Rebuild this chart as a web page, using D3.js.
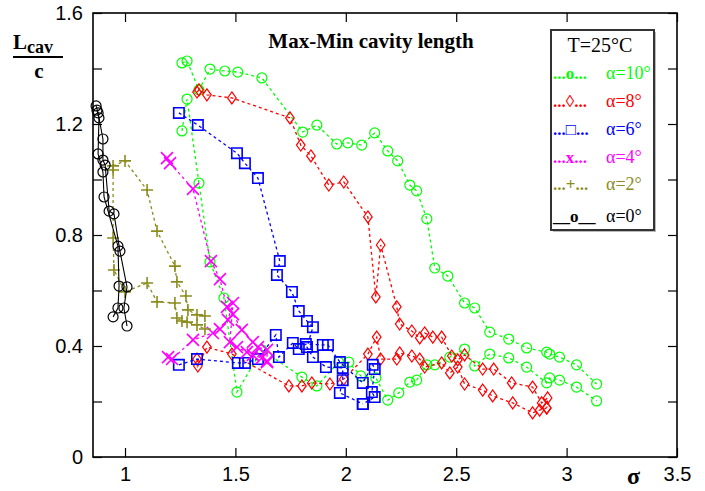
<!DOCTYPE html>
<html><head><meta charset="utf-8">
<script src="https://cdn.jsdelivr.net/npm/d3@7"></script>
<style>
html,body{margin:0;padding:0;background:#fff;}
svg{display:block;}
</style></head>
<body>
<svg id="chart" width="705" height="491"></svg>
<script>
// Axis ticks
const xTickVals = [1, 1.5, 2, 2.5, 3, 3.5];
const xTickLabels = ["1", "1.5", "2", "2.5", "3", "3.5"];
const yTickVals = [0, 0.2, 0.4, 0.6, 0.8, 1.0, 1.2, 1.4, 1.6];
const yTickLabels = ["0", "", "0.4", "", "0.8", "", "1.2", "", "1.6"];

// Cavity length Lcav/c against cavitation number sigma, max and min branches per angle
const a10Max = [[1.258,1.42],[1.281,1.427],[1.335,1.323],[1.385,1.398],[1.452,1.391],[1.511,1.387],[1.62,1.366],[1.805,1.171],[1.869,1.196],[1.959,1.128],[2.009,1.132],[2.072,1.124],[2.131,1.168],[2.19,1.103],[2.235,1.067],[2.29,0.98],[2.321,0.959],[2.367,0.858],[2.403,0.681],[2.462,0.652],[2.538,0.555],[2.584,0.537],[2.652,0.45],[2.738,0.425],[2.819,0.393],[2.91,0.378],[2.923,0.371],[2.968,0.36],[3.045,0.332],[3.136,0.263]];
const a10Min = [[1.258,1.175],[1.281,1.29],[1.335,0.987],[1.385,0.703],[1.448,0.573],[1.507,0.234],[1.62,0.386],[1.801,0.288],[1.869,0.256],[1.968,0.342],[2.014,0.342],[2.068,0.292],[2.136,0.285],[2.19,0.205],[2.24,0.231],[2.29,0.27],[2.321,0.277],[2.367,0.332],[2.403,0.332],[2.471,0.36],[2.538,0.389],[2.584,0.328],[2.652,0.371],[2.738,0.357],[2.819,0.324],[2.91,0.267],[2.923,0.285],[2.968,0.277],[3.045,0.252],[3.136,0.202]];

const a8Max = [[1.326,1.315],[1.335,1.323],[1.371,1.305],[1.484,1.294],[1.747,1.222],[1.796,1.124],[1.842,1.085],[1.923,0.98],[1.991,0.991],[2.10,0.865],[2.136,0.577],[2.158,0.764],[2.231,0.541],[2.244,0.479],[2.299,0.454],[2.335,0.429],[2.357,0.447],[2.394,0.432],[2.434,0.432],[2.48,0.364],[2.507,0.35],[2.538,0.368],[2.62,0.317],[2.67,0.317],[2.751,0.267],[2.846,0.252],[2.887,0.195],[2.914,0.213],[2.91,0.177]];
const a8Min = [[1.326,0.353],[1.33,0.328],[1.371,0.396],[1.484,0.371],[1.742,0.256],[1.801,0.256],[1.846,0.267],[1.928,0.263],[1.991,0.281],[2.10,0.371],[2.14,0.432],[2.158,0.353],[2.231,0.353],[2.244,0.375],[2.299,0.364],[2.335,0.353],[2.357,0.324],[2.434,0.339],[2.471,0.303],[2.507,0.324],[2.538,0.263],[2.62,0.241],[2.665,0.22],[2.756,0.195],[2.846,0.159],[2.878,0.169],[2.91,0.177]];

const a6Max = [[1.244,1.24],[1.33,1.196],[1.507,1.095],[1.543,1.059],[1.602,1.005],[1.701,0.706],[1.688,0.656],[1.756,0.595],[1.787,0.526],[1.824,0.49],[1.851,0.468],[1.824,0.396],[1.851,0.36],[1.91,0.324],[1.986,0.321],[1.986,0.277],[1.973,0.231],[2.077,0.191]];
const a6Min = [[1.244,0.332],[1.326,0.353],[1.511,0.339],[1.543,0.339],[1.602,0.353],[1.683,0.44],[1.697,0.36],[1.76,0.411],[1.787,0.389],[1.819,0.407],[1.896,0.404],[1.919,0.404],[1.973,0.342],[2.077,0.267],[2.122,0.332],[2.131,0.317],[2.118,0.234],[2.131,0.216],[2.077,0.191]];

const a4Max = [[1.19,1.077],[1.204,1.059],[1.308,0.966],[1.389,0.706],[1.43,0.641],[1.462,0.541],[1.489,0.515],[1.529,0.458],[1.579,0.414],[1.602,0.396],[1.643,0.386],[1.643,0.346]];
const a4Min = [[1.195,0.36],[1.213,0.353],[1.308,0.422],[1.398,0.447],[1.43,0.461],[1.466,0.494],[1.489,0.555],[1.475,0.414],[1.507,0.396],[1.552,0.378],[1.579,0.368],[1.62,0.357],[1.643,0.342]];

const a2Max = [[0.946,1.049],[1.0,1.067],[1.10,0.962],[1.145,0.814],[1.226,0.688],[1.235,0.631],[1.276,0.58],[1.285,0.53],[1.326,0.512],[1.362,0.508]];
const a2Min = [[0.946,1.034],[0.946,0.789],[0.95,0.674],[1.0,0.595],[1.10,0.627],[1.145,0.559],[1.226,0.555],[1.235,0.501],[1.258,0.49],[1.281,0.486],[1.326,0.476],[1.362,0.461]];

const a0Max = [[0.869,1.265],[0.878,1.24],[0.90,1.146],[0.90,1.07],[0.91,1.052],[0.928,0.886],[0.95,0.876],[0.977,0.742],[1.009,0.613],[0.995,0.537],[1.009,0.472]];
const a0Min = [[0.873,1.25],[0.882,1.222],[0.878,1.092],[0.90,1.027],[0.905,0.937],[0.968,0.76],[0.973,0.616],[0.968,0.537],[0.946,0.505]];

// Legend texts
const legendTitle = "T=25\u00B0C";
const legendSymbols = ["...o...", "...\u25CA...", "...\u25A1...", "...x...", "...+...", "__o__"];
const legendLabels = ["\u03B1=10\u00B0", "\u03B1=8\u00B0", "\u03B1=6\u00B0", "\u03B1=4\u00B0", "\u03B1=2\u00B0", "\u03B1=0\u00B0"];

const series = [
  {branches: [a10Max, a10Min], color: "#00ff00", marker: "circle", dash: "3,3"},
  {branches: [a8Max, a8Min], color: "#ff0000", marker: "diamond", dash: "3,3"},
  {branches: [a6Max, a6Min], color: "#0000ff", marker: "square", dash: "3,3"},
  {branches: [a4Max, a4Min], color: "#ff00ff", marker: "times", dash: "3,3"},
  {branches: [a2Max, a2Min], color: "#8c8c1e", marker: "plus", dash: "3,3"},
  {branches: [a0Max, a0Min], color: "#000000", marker: "circle", dash: null}
];

const svg = d3.select("#chart");
const W = 705, H = 491;
const plotL = 93, plotR = 677, plotT = 13, plotB = 457;

const x = d3.scaleLinear().domain([0.855, 3.5]).range([plotL, plotR]);
const y = d3.scaleLinear().domain([0, 1.6]).range([plotB, plotT]);

const sans = "'Liberation Sans', Arial, sans-serif";
const serif = "'Liberation Serif', 'Times New Roman', serif";

svg.append("rect").attr("width", W).attr("height", H).attr("fill", "#fff");

// Axes with inward ticks on all four sides
const tickLen = 9;
const gx = svg.append("g").attr("transform", `translate(0,${plotB})`)
  .call(d3.axisBottom(x).tickValues(xTickVals)
    .tickFormat((d, i) => xTickLabels[i]).tickSizeInner(-tickLen).tickSizeOuter(0).tickPadding(10));
const gy = svg.append("g").attr("transform", `translate(${plotL},0)`)
  .call(d3.axisLeft(y).tickValues(yTickVals)
    .tickFormat((d, i) => yTickLabels[i]).tickSizeInner(-tickLen).tickSizeOuter(0).tickPadding(10));
const gt = svg.append("g").attr("transform", `translate(0,${plotT})`)
  .call(d3.axisTop(x).tickValues(xTickVals).tickFormat("").tickSizeInner(-tickLen).tickSizeOuter(0));
const gr = svg.append("g").attr("transform", `translate(${plotR},0)`)
  .call(d3.axisRight(y).tickValues(yTickVals).tickFormat("").tickSizeInner(-tickLen).tickSizeOuter(0));

[gx, gy, gt, gr].forEach(g => {
  g.select(".domain").remove();
  g.selectAll(".tick line").attr("stroke", "#000").attr("stroke-width", 1.2);
  g.selectAll(".tick text").attr("fill", "#000").style("font-family", sans).style("font-size", "20px");
});

svg.append("rect").attr("x", plotL).attr("y", plotT)
  .attr("width", plotR - plotL).attr("height", plotB - plotT)
  .attr("fill", "none").attr("stroke", "#000").attr("stroke-width", 1.6);

// Marker shapes
const markerPath = {
  circle: "M5,0A5,5 0 1,1 -5,0A5,5 0 1,1 5,0Z",
  diamond: "M0,-6L4.3,0L0,6L-4.3,0Z",
  square: "M-5.2,-5.2H5.2V5.2H-5.2Z",
  times: "M-6,-6L6,6M-6,6L6,-6",
  plus: "M-6,0H6M0,-6V6"
};

const line = d3.line().x(d => x(d[0])).y(d => y(d[1]));
const plot = svg.append("g");

series.forEach(s => {
  const g = plot.append("g");
  s.branches.forEach(b => {
    g.append("path").attr("d", line(b))
      .attr("fill", "none").attr("stroke", s.color)
      .attr("stroke-width", s.dash ? 1.3 : 1.1)
      .attr("stroke-dasharray", s.dash);
  });
  s.branches.forEach(b => {
    g.selectAll(null).data(b).enter().append("path")
      .attr("transform", d => `translate(${x(d[0])},${y(d[1])})`)
      .attr("d", markerPath[s.marker])
      .attr("fill", "none").attr("stroke", s.color)
      .attr("stroke-width", s.marker === "times" || s.marker === "plus" || s.marker === "square" ? 1.6 : 1.2);
  });
});

// Title
svg.append("text").attr("x", 371).attr("y", 48).attr("text-anchor", "middle")
  .style("font-family", serif).style("font-weight", "bold").style("font-size", "21px")
  .text("Max-Min cavity length");

// Y axis label as a fraction Lcav / c
const yl = svg.append("text").attr("x", 13).attr("y", 49)
  .style("font-family", serif).style("font-weight", "bold").style("font-size", "21px");
yl.append("tspan").text("L");
yl.append("tspan").attr("dy", 4).style("font-size", "18px").text("cav");
svg.append("line").attr("x1", 13).attr("x2", 63).attr("y1", 57).attr("y2", 57)
  .attr("stroke", "#000").attr("stroke-width", 1.8);
svg.append("text").attr("x", 39).attr("y", 78).attr("text-anchor", "middle")
  .style("font-family", serif).style("font-weight", "bold").style("font-size", "21px").text("c");

// X axis label
svg.append("text").attr("x", 627).attr("y", 484)
  .style("font-family", serif).style("font-weight", "bold").style("font-size", "24px").text("\u03C3");

// Legend
const lg = svg.append("g");
lg.append("rect").attr("x", 553).attr("y", 32).attr("width", 103).attr("height", 200)
  .attr("fill", "#bbb");
lg.append("rect").attr("x", 551).attr("y", 30).attr("width", 103).attr("height", 200)
  .attr("fill", "#fff").attr("stroke", "#333").attr("stroke-width", 2);
lg.append("text").attr("x", 600).attr("y", 52).attr("text-anchor", "middle")
  .style("font-family", serif).style("font-size", "20px").text(legendTitle);
const rowY = [79, 107, 135, 163, 190, 222];
legendLabels.forEach((lab, i) => {
  const c = series[i].color;
  lg.append("text").attr("x", 553).attr("y", rowY[i])
    .style("font-family", serif).style("font-weight", "bold").style("font-size", "17px")
    .attr("fill", c).text(legendSymbols[i]);
  lg.append("text").attr("x", 606).attr("y", rowY[i])
    .style("font-family", serif).style("font-size", "18px")
    .attr("fill", c).text(lab);
});
</script>
</body></html>
